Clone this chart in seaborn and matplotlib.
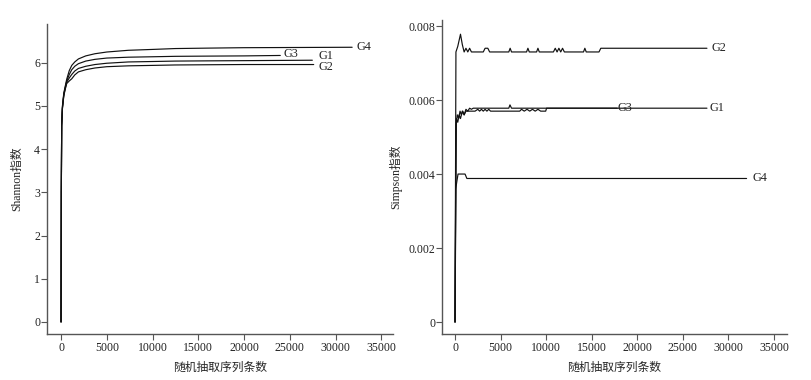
import matplotlib
matplotlib.use("Agg")
import matplotlib.pyplot as plt
import seaborn as sns
import pandas as pd

# ---------------- data ----------------
shannon_base_x = [0, 30, 70, 150, 300, 450, 620, 900, 1170, 1500, 1900, 2700, 3700, 5000,
                  7360, 10000, 12470, 16000, 20000]
shannon_x = {
    "G4": shannon_base_x + [31800],
    "G3": shannon_base_x + [23950],
    "G1": shannon_base_x + [27450],
    "G2": shannon_base_x + [27600],
}
shannon_y = {
    "G4": [0, 3.0, 4.55, 5.0, 5.3, 5.45, 5.62, 5.82, 5.94, 6.02, 6.09, 6.16, 6.21, 6.25,
           6.29, 6.31, 6.33, 6.34, 6.35, 6.36],
    "G3": [0, 3.0, 4.55, 4.97, 5.27, 5.42, 5.58, 5.73, 5.84, 5.92, 5.98, 6.04, 6.08, 6.11,
           6.13, 6.14, 6.15, 6.155, 6.16, 6.17],
    "G1": [0, 3.0, 4.55, 4.95, 5.25, 5.40, 5.55, 5.65, 5.73, 5.81, 5.87, 5.92, 5.96, 5.99,
           6.02, 6.03, 6.04, 6.045, 6.05, 6.06],
    "G2": [0, 3.0, 4.55, 4.93, 5.23, 5.38, 5.52, 5.58, 5.63, 5.72, 5.79, 5.84, 5.88, 5.91,
           5.93, 5.94, 5.95, 5.955, 5.96, 5.96],
}

simpson_x = {
    "G2": [0, 100, 300, 600, 800, 1000, 1200, 1400, 1600, 1800, 3100, 3300, 3600, 3800,
           5900, 6050, 6200, 7850, 8000, 8150, 8950, 9100, 9250, 10800, 11000, 11200, 11400,
           11600, 11800, 12000, 14100, 14250, 14400, 15800, 16000, 27650],
    "G1": [0, 100, 250, 400, 550, 700, 850, 1000, 1200, 1400, 1600, 1800, 2000, 5900, 6030,
           6200, 27650],
    "G3": [0, 150, 300, 450, 600, 800, 1000, 1200, 1500, 1800, 2200, 2500, 2700, 2900, 3100,
           3300, 3500, 3700, 3900, 7100, 7300, 7600, 7900, 8200, 8500, 8800, 9100, 9400, 9700,
           9950, 10050, 17800],
    "G4": [0, 80, 200, 330, 600, 1100, 1300, 32000],
}
simpson_y = {
    "G2": [0, 0.0073, 0.00745, 0.00778, 0.0075, 0.0073, 0.0074, 0.0073, 0.0074, 0.0073,
           0.0073, 0.0074, 0.0074, 0.0073, 0.0073, 0.0074, 0.0073, 0.0073, 0.0074, 0.0073,
           0.0073, 0.0074, 0.0073, 0.0073, 0.0074, 0.0073, 0.0074, 0.0073, 0.0074, 0.0073,
           0.0073, 0.0074, 0.0073, 0.0073, 0.0074, 0.0074],
    "G1": [0, 0.0053, 0.0056, 0.0055, 0.0057, 0.0056, 0.0057, 0.0056, 0.00575, 0.0057, 0.00578,
           0.00575, 0.00578, 0.00578, 0.00587, 0.00578, 0.00578],
    "G3": [0, 0.0055, 0.0054, 0.0056, 0.0055, 0.0057, 0.0056, 0.0057, 0.0057, 0.0057, 0.0057,
           0.00575, 0.0057, 0.00575, 0.0057, 0.00575, 0.0057, 0.00575, 0.0057, 0.0057, 0.00575,
           0.0057, 0.00575, 0.0057, 0.00575, 0.0057, 0.00575, 0.0057, 0.0057, 0.0057, 0.00578,
           0.00578],
    "G4": [0, 0.0036, 0.0038, 0.0040, 0.0040, 0.0040, 0.00388, 0.00388],
}

shannon_order = ["G4", "G3", "G1", "G2"]
simpson_order = ["G2", "G1", "G3", "G4"]

x_ticks = [0, 5000, 10000, 15000, 20000, 25000, 30000, 35000]
shannon_ticks = [0, 1, 2, 3, 4, 5, 6]
simpson_ticks = [0, 0.002, 0.004, 0.006, 0.008]
simpson_ticklabels = ["0", "0.002", "0.004", "0.006", "0.008"]
xlabel = "随机抽取序列条数"
ylabel_left = "Shannon指数"
ylabel_right = "Simpson指数"

# ---------------- style ----------------
sns.set_theme(style="ticks")
plt.rcParams["font.family"] = ["Liberation Serif", "Noto Sans CJK SC"]
plt.rcParams["axes.edgecolor"] = "#555555"
plt.rcParams["xtick.color"] = "#555555"
plt.rcParams["ytick.color"] = "#555555"
plt.rcParams["xtick.labelcolor"] = "#222222"
plt.rcParams["ytick.labelcolor"] = "#222222"

fig = plt.figure(figsize=(8.11, 3.80), dpi=100)
axL = fig.add_axes([0.058, 0.121, 0.427, 0.816])
axR = fig.add_axes([0.545, 0.121, 0.425, 0.826])


def draw(ax, xs, ys, order, label_dx, label_dy):
    for g in order:
        df = pd.DataFrame({"x": xs[g], "y": ys[g]})
        sns.lineplot(data=df, x="x", y="y", ax=ax, color="#111111", linewidth=0.85,
                     estimator=None, sort=False)
        ax.text(xs[g][-1] + label_dx.get(g, 450), ys[g][-1] + label_dy.get(g, 0), g,
                fontsize=8.8, va="center", ha="left", color="#222222")


draw(axL, shannon_x, shannon_y, shannon_order,
     {"G4": 440, "G3": 330, "G1": 650, "G2": 550},
     {"G4": 0.0, "G3": 0.04, "G1": 0.10, "G2": -0.05})
draw(axR, simpson_x, simpson_y, simpson_order,
     {"G2": 550, "G1": 330, "G3": 0, "G4": 660},
     {})

for ax in (axL, axR):
    sns.despine(ax=ax)
    ax.set_xticks(x_ticks)
    ax.set_xticklabels([str(t) for t in x_ticks])
    ax.tick_params(axis="both", direction="out", length=4, width=0.8, labelsize=8.5)
    ax.tick_params(axis="y", pad=1)
    ax.tick_params(axis="x", pad=1.5)
    ax.set_xlabel(xlabel, fontsize=8.5, labelpad=6)
    for sp in ax.spines.values():
        sp.set_linewidth(1.0)

axL.set_xlim(-1530, 36300)
axL.set_ylim(-0.28, 6.9)
axL.set_yticks(shannon_ticks)
axL.set_yticklabels([str(t) for t in shannon_ticks])
axL.set_ylabel(ylabel_left, fontsize=8.5, labelpad=8)

axR.set_xlim(-1430, 36400)
axR.set_ylim(-0.000324, 0.00816)
axR.set_yticks(simpson_ticks)
axR.set_yticklabels(simpson_ticklabels)
axR.set_ylabel(ylabel_right, fontsize=8.5, labelpad=4)

fig.savefig("out.png", dpi=100, facecolor="white")
